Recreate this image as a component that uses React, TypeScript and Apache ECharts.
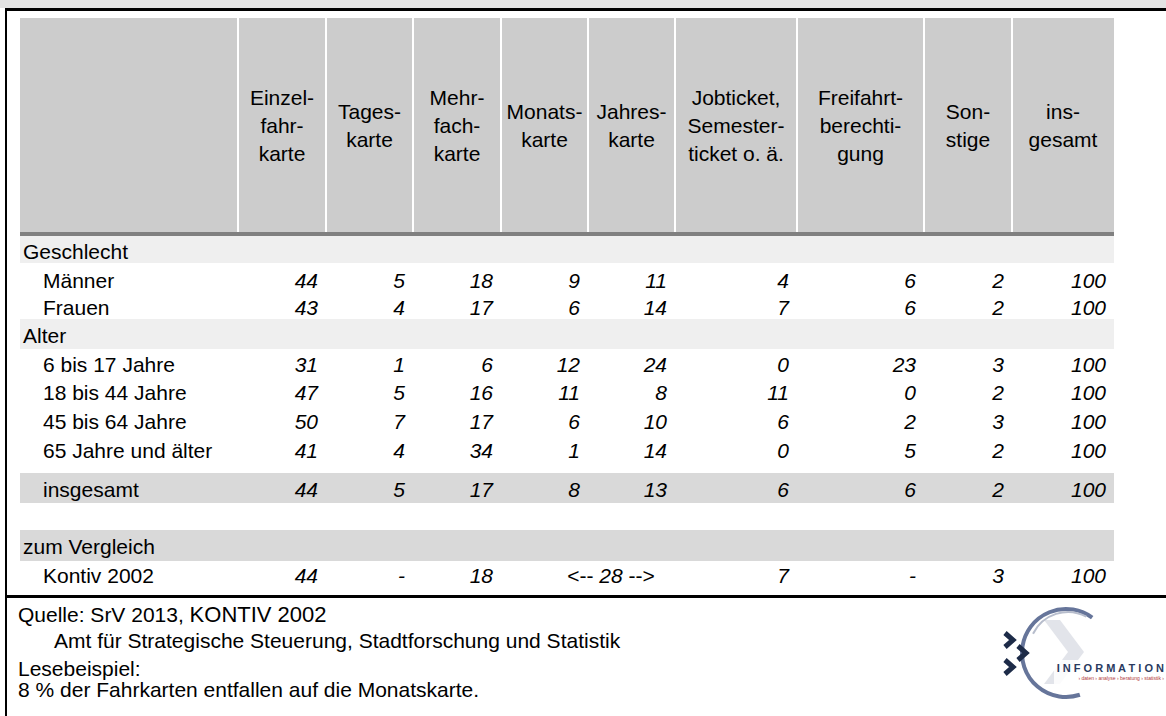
import React, { useEffect, useRef } from "react";
import * as echarts from "echarts";

// ---------- data ----------
const columnHeaders = [
  "Einzel-\nfahr-\nkarte",
  "Tages-\nkarte",
  "Mehr-\nfach-\nkarte",
  "Monats-\nkarte",
  "Jahres-\nkarte",
  "Jobticket,\nSemester-\nticket o. ä.",
  "Freifahrt-\nberechti-\ngung",
  "Son-\nstige",
  "ins-\ngesamt",
];
const groupGeschlecht = "Geschlecht";
const groupAlter = "Alter";
const groupVergleich = "zum Vergleich";

const maenner = [44, 5, 18, 9, 11, 4, 6, 2, 100];
const frauen = [43, 4, 17, 6, 14, 7, 6, 2, 100];
const alter6bis17 = [31, 1, 6, 12, 24, 0, 23, 3, 100];
const alter18bis44 = [47, 5, 16, 11, 8, 11, 0, 2, 100];
const alter45bis64 = [50, 7, 17, 6, 10, 6, 2, 3, 100];
const alter65plus = [41, 4, 34, 1, 14, 0, 5, 2, 100];
const insgesamt = [44, 5, 17, 8, 13, 6, 6, 2, 100];
const kontiv2002 = ["44", "-", "18", "", "", "7", "-", "3", "100"];
const kontivMonatsJahres = 28;

const footerSource = "Quelle:";
const footerSourceA = "SrV 2013, ";
const footerSourceB = "KONTIV 2002";
const footerOffice = "Amt für Strategische Steuerung, Stadtforschung und Statistik";
const footerReadTitle = "Lesebeispiel:";
const footerReadText = "8 % der Fahrkarten entfallen auf die Monatskarte.";

// ---------- layout ----------
const FONT = '"Liberation Sans", Arial, sans-serif';
const FS = 21;
const COL_EDGES = [20, 238, 326, 413, 501, 588, 675, 797, 924, 1012, 1114];
const LEFT = COL_EDGES[0];
const RIGHT = COL_EDGES[COL_EDGES.length - 1];

type Row = { label: string; y0: number; y1: number; ty: number; kind: "group" | "item" | "total"; values?: (number | string)[] };

const rows: Row[] = [
  { label: groupGeschlecht, y0: 236, y1: 263, ty: 251, kind: "group" },
  { label: "Männer", y0: 263, y1: 292, ty: 280, kind: "item", values: maenner },
  { label: "Frauen", y0: 292, y1: 319, ty: 307, kind: "item", values: frauen },
  { label: groupAlter, y0: 319, y1: 349, ty: 335, kind: "group" },
  { label: "6 bis 17 Jahre", y0: 349, y1: 378, ty: 364, kind: "item", values: alter6bis17 },
  { label: "18 bis 44 Jahre", y0: 378, y1: 407, ty: 392, kind: "item", values: alter18bis44 },
  { label: "45 bis 64 Jahre", y0: 407, y1: 436, ty: 421, kind: "item", values: alter45bis64 },
  { label: "65 Jahre und älter", y0: 436, y1: 465, ty: 450, kind: "item", values: alter65plus },
  { label: "insgesamt", y0: 473, y1: 503, ty: 489, kind: "total", values: insgesamt },
  { label: groupVergleich, y0: 530, y1: 561, ty: 546, kind: "group" },
  { label: "Kontiv 2002", y0: 561, y1: 590, ty: 575, kind: "item", values: kontiv2002 },
];

function buildGraphics() {
  const els: any[] = [];
  // top band and frame
  els.push({ type: "rect", shape: { x: 0, y: 0, width: 1166, height: 8 }, style: { fill: "#e3e3e3" } });
  els.push({ type: "rect", shape: { x: 5, y: 8, width: 1161, height: 3 }, style: { fill: "#000" } });
  els.push({ type: "rect", shape: { x: 5, y: 8, width: 2, height: 708 }, style: { fill: "#000" } });
  els.push({ type: "rect", shape: { x: 5, y: 595, width: 1161, height: 3 }, style: { fill: "#000" } });

  // header
  els.push({ type: "rect", shape: { x: LEFT, y: 18, width: RIGHT - LEFT, height: 214 }, style: { fill: "#cccccc" } });
  for (let i = 1; i < COL_EDGES.length - 1; i++) {
    els.push({ type: "rect", shape: { x: COL_EDGES[i] - 1, y: 18, width: 2, height: 214 }, style: { fill: "#ffffff" } });
  }
  els.push({ type: "rect", shape: { x: LEFT, y: 232, width: RIGHT - LEFT, height: 4 }, style: { fill: "#808080" } });
  columnHeaders.forEach((h, i) => {
    const cx = (COL_EDGES[i + 1] + COL_EDGES[i + 2]) / 2;
    els.push({
      type: "text",
      x: cx,
      y: 125,
      style: { text: h, font: `${FS}px ${FONT}`, fill: "#000", align: "center", verticalAlign: "middle", lineHeight: 28 },
    });
  });

  rows.forEach((r) => {
    const cy = r.ty;
    if (r.kind === "group") {
      els.push({ type: "rect", shape: { x: LEFT, y: r.y0, width: RIGHT - LEFT, height: r.y1 - r.y0 }, style: { fill: r.label === groupVergleich ? "#d9d9d9" : "#efefef" } });
      els.push({ type: "text", x: LEFT + 3, y: cy, style: { text: r.label, font: `${FS}px ${FONT}`, fill: "#000", align: "left", verticalAlign: "middle" } });
      return;
    }
    if (r.kind === "total") {
      els.push({ type: "rect", shape: { x: LEFT, y: r.y0, width: RIGHT - LEFT, height: r.y1 - r.y0 }, style: { fill: "#d9d9d9" } });
    }
    els.push({ type: "text", x: 43, y: cy, style: { text: r.label, font: `${FS}px ${FONT}`, fill: "#000", align: "left", verticalAlign: "middle" } });
    (r.values || []).forEach((v, i) => {
      const s = String(v);
      if (s === "") return;
      els.push({
        type: "text",
        x: COL_EDGES[i + 2] - 8,
        y: cy,
        style: { text: s, font: `italic ${FS}px ${FONT}`, fill: "#000", align: "right", verticalAlign: "middle" },
      });
    });
    if (r.values === kontiv2002) {
      els.push({
        type: "text",
        x: COL_EDGES[5] + 23,
        y: cy,
        style: {
          text: `{a|<-- }{b|${kontivMonatsJahres}}{a| -->}`,
          rich: {
            a: { font: `${FS}px ${FONT}`, fill: "#000" },
            b: { font: `italic ${FS}px ${FONT}`, fill: "#000" },
          },
          align: "center",
          verticalAlign: "middle",
        },
      });
    }
  });

  // footer
  const FF = 21;
  els.push({
    type: "text",
    x: 18,
    y: 614,
    style: {
      text: `{a|${footerSource} ${footerSourceA}}{b|${footerSourceB}}`,
      rich: { a: { font: `${FF}px ${FONT}`, fill: "#000" }, b: { font: `22px ${FONT}`, fill: "#000" } },
      verticalAlign: "middle",
    },
  });
  els.push({ type: "text", x: 54, y: 640, style: { text: footerOffice, font: `${FF}px ${FONT}`, fill: "#000", verticalAlign: "middle" } });
  els.push({ type: "text", x: 18, y: 668, style: { text: footerReadTitle, font: `${FF}px ${FONT}`, fill: "#000", verticalAlign: "middle" } });
  els.push({ type: "text", x: 18, y: 689, style: { text: footerReadText, font: `${FF}px ${FONT}`, fill: "#000", verticalAlign: "middle" } });

  // logo
  els.push({ type: "polygon", shape: { points: [[1044, 620], [1060, 620], [1084, 652], [1060, 684], [1044, 684], [1068, 652]] }, style: { fill: "#e2e4ea" } });
  els.push({ type: "arc", shape: { cx: 1066, cy: 653, r: 44, startAngle: 1.25, endAngle: 5.35, clockwise: true }, style: { stroke: "#66759a", lineWidth: 4, fill: "none" } });
  els.push({ type: "arc", shape: { cx: 1068, cy: 651, r: 39, startAngle: 3.6, endAngle: 5.2, clockwise: true }, style: { stroke: "#b7bdcc", lineWidth: 2, fill: "none" } });
  const chev = (x: number, y: number) => ({
    type: "polyline",
    shape: { points: [[x, y], [x + 8, y + 7], [x, y + 14]] },
    style: { stroke: "#1d2b48", lineWidth: 5, fill: "none" },
  });
  els.push(chev(1005, 633));
  els.push(chev(1005, 660));
  els.push(chev(1018, 646));
  els.push({ type: "rect", shape: { x: 1054, y: 660, width: 112, height: 24 }, style: { fill: "#ffffff", opacity: 0.85 } });
  els.push({ type: "text", x: 1164, y: 668, style: { text: "I N F O R M A T I O N", font: `bold 11px ${FONT}`, fill: "#2a3a60", align: "right", verticalAlign: "middle" } });
  els.push({ type: "text", x: 1164, y: 678, style: { text: "› daten › analyse › beratung › statistik ›", font: `5px ${FONT}`, fill: "#b03a3a", align: "right", verticalAlign: "middle" } });
  return els;
}

export default function App() {
  const ref = useRef<HTMLDivElement>(null);
  useEffect(() => {
    document.body.style.margin = "0";
    const chart = echarts.init(ref.current!, undefined, { renderer: "svg" });
    chart.setOption({
      animation: false,
      backgroundColor: "#ffffff",
      graphic: { elements: buildGraphics() },
    });
    return () => chart.dispose();
  }, []);
  return <div ref={ref} style={{ position: "fixed", left: 0, top: 0, width: 1166, height: 716 }} />;
}
